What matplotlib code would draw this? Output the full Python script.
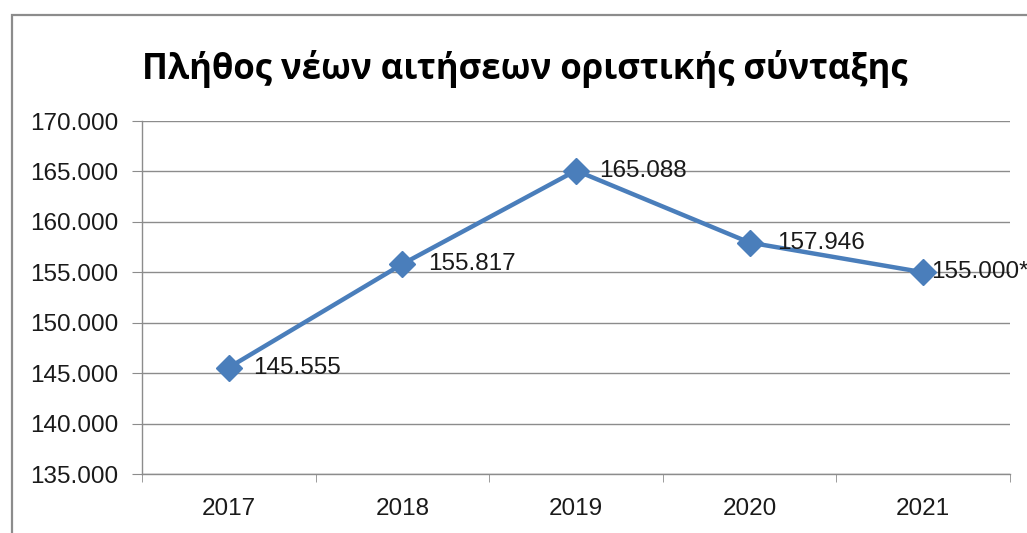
import matplotlib
matplotlib.use("Agg")
import matplotlib.pyplot as plt
from matplotlib.patches import Rectangle

years = ["2017", "2018", "2019", "2020", "2021"]
values = [145555, 155817, 165088, 157946, 155000]
label_marks = ["", "", "", "", "*"]
yticks = [135000, 140000, 145000, 150000, 155000, 160000, 165000, 170000]
title = "Πλήθος νέων αιτήσεων οριστικής σύνταξης"

def fmt(v):
    return f"{v:,.0f}".replace(",", ".")

W, H = 1027, 533
fig = plt.figure(figsize=(W / 100, H / 100), dpi=100)
fig.patch.set_facecolor("white")

# outer chart border (cut off at right/bottom)
fig.patches.append(Rectangle((12 / W, -0.1), 1.2, (H - 15) / H + 0.1,
                             transform=fig.transFigure, fill=False,
                             edgecolor="#8c8c8c", linewidth=1.6))

ax = fig.add_axes([142 / W, (H - 474) / H, (1010 - 142) / W, (474 - 121) / H])
x = list(range(len(years)))
ax.plot(x, values, color="#4a7ebb", linewidth=3.2, marker="D",
        markersize=13, markerfacecolor="#4a7ebb", markeredgecolor="#4a7ebb",
        zorder=3)

ax.set_xlim(-0.5, len(years) - 0.5)
ax.set_ylim(yticks[0], yticks[-1])
ax.set_yticks(yticks)
ax.set_yticklabels([fmt(v) for v in yticks])
ax.set_xticks(x)
ax.set_xticklabels(years)
ax.set_xticks([i - 0.5 for i in range(len(years) + 1)], minor=True)

ax.yaxis.grid(True, color="#8c8c8c", linewidth=1.0)
ax.set_axisbelow(True)
for s in ["top", "right"]:
    ax.spines[s].set_visible(False)
for s in ["left", "bottom"]:
    ax.spines[s].set_color("#8c8c8c")
    ax.spines[s].set_linewidth(1.0)

ax.tick_params(axis="y", length=7, color="#8c8c8c", pad=10, labelsize=17.5)
ax.tick_params(axis="x", which="major", length=0, pad=17, labelsize=17.5)
ax.tick_params(axis="x", which="minor", length=6, color="#8c8c8c")
for lab in ax.get_xticklabels() + ax.get_yticklabels():
    lab.set_fontfamily(["Liberation Sans", "DejaVu Sans"])
    lab.set_color("#1a1a1a")

offsets = [24, 26, 23, 28, 8]
for xi, v, m, off in zip(x, values, label_marks, offsets):
    ax.annotate(fmt(v) + m, (xi, v), xytext=(off * 0.72, 0),
                textcoords="offset points", ha="left", va="center",
                fontsize=17.5, family=["Liberation Sans", "DejaVu Sans"],
                color="#1a1a1a", annotation_clip=False, zorder=4)

fig.text(525 / W, (H - 69) / H, title, ha="center", va="center",
         fontsize=25, fontweight="bold", family=["Open Sans", "DejaVu Sans"],
         color="black")

fig.savefig("out.png", dpi=100)
